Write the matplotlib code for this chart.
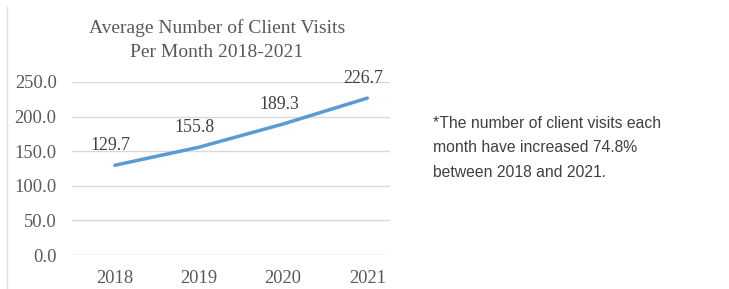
import matplotlib.pyplot as plt
from matplotlib.lines import Line2D

# data
years = ["2018", "2019", "2020", "2021"]
visits = [129.7, 155.8, 189.3, 226.7]
y_ticks = [0, 50, 100, 150, 200, 250]
title = "Average Number of Client Visits\nPer Month 2018-2021"
note = "*The number of client visits each\nmonth have increased 74.8%\nbetween 2018 and 2021."

serif = ["Liberation Serif", "DejaVu Serif"]
sans = ["Liberation Sans", "DejaVu Sans"]
line_color = "#5B9BD5"
grey = "#595959"

fig = plt.figure(figsize=(7.29, 2.89), dpi=100)
ax = fig.add_axes([72 / 729, 1 - 255 / 289, (390 - 72) / 729, (255 - 82) / 289])

x = list(range(len(years)))
ax.plot(x, visits, color=line_color, lw=2.5, solid_capstyle="round", clip_on=False, zorder=3)

for xi, v in zip(x, visits):
    ax.annotate(f"{v:.1f}", (xi, v), xytext=(-3, 14), textcoords="offset points",
                ha="center", va="center", fontsize=12.8, family=serif, color="#404040")

ax.set_xlim(-0.51, 3.27)
ax.set_ylim(0, 250)
ax.set_yticks(y_ticks)
ax.set_yticklabels([f"{t:.1f}" for t in y_ticks], family=serif, fontsize=13.3, color=grey)
ax.set_xticks(x)
ax.set_xticklabels(years, family=serif, fontsize=13.3, color=grey)
ax.tick_params(length=0)
ax.tick_params(axis="y", pad=11)
ax.tick_params(axis="x", pad=11)
ax.grid(axis="y", color="#d9d9d9", lw=1)
ax.set_axisbelow(True)
for s in ax.spines.values():
    s.set_visible(False)

fig.text(217 / 729, 1 - 40 / 289, title, ha="center", va="center", family=serif,
         fontsize=14, color=grey, linespacing=1.5)

# faint frame line on the left
fig.add_artist(Line2D([7 / 729, 7 / 729], [0, 1 - 7 / 289], color="#e0e0e0", lw=1))

fig.text(433 / 729, 1 - 148 / 289, note, ha="left", va="center", family=sans,
         fontsize=11.3, color="#404040", linespacing=1.8)

fig.savefig("out.png", dpi=100)
